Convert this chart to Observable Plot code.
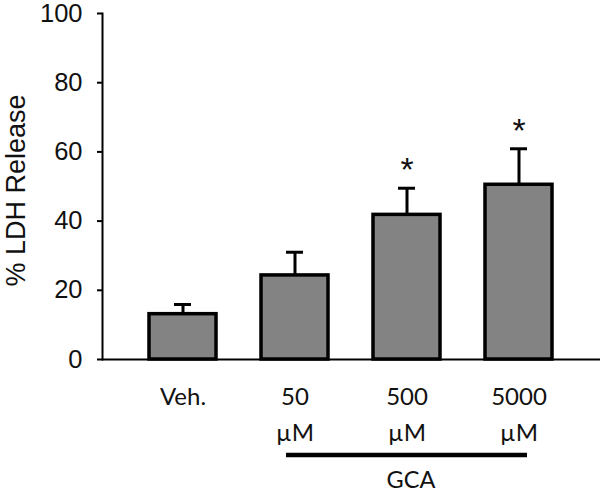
<!DOCTYPE html>
<html>
<head>
<meta charset="utf-8">
<script src="https://cdn.jsdelivr.net/npm/d3@7"></script>
<script src="https://cdn.jsdelivr.net/npm/@observablehq/plot@0.6"></script>
<style>
  html, body { margin: 0; padding: 0; background: #fff; }
  #chart svg { display: block; }
</style>
</head>
<body>
<div id="chart"></div>
<script>
// Data
const categories = ["Veh.", "50 µM", "500 µM", "5000 µM"];
const tickLabels = ["Veh.", "50\nµM", "500\nµM", "5000\nµM"];
const means = [13.1, 24.3, 41.8, 50.5];
const errors = [2.8, 6.7, 7.7, 10.4];
const significant = [false, false, true, true];
const yTicks = [0, 20, 40, 60, 80, 100];
const yLabel = "% LDH Release";
const groupLabel = "GCA";
const groupStart = "50 µM";
const groupEnd = "5000 µM";

const rows = categories.map((c, i) => ({
  cat: c, mean: means[i], upper: means[i] + errors[i], sig: significant[i]
}));
const labelOf = new Map(categories.map((c, i) => [c, tickLabels[i]]));

const bracketY = -27.6;

const chart = Plot.plot({
  width: 600,
  height: 493,
  marginLeft: 102,
  marginRight: 0,
  marginTop: 13,
  marginBottom: 134,
  style: { background: "#fff" },
  x: { domain: categories, paddingInner: 0.4, paddingOuter: 0.42, label: null },
  y: { domain: [0, 100], ticks: yTicks, label: null },
  marks: [
    Plot.frame({ anchor: "left", stroke: "#000", strokeWidth: 2 }),
    Plot.axisY({
      ticks: yTicks, tickSize: 5, tickPadding: 15, strokeWidth: 2,
      fontSize: 25.5, fontFamily: "Liberation Sans, Arial, sans-serif", fill: "#111", label: null
    }),
    Plot.axisX({
      tickSize: 0, tickPadding: 20, fontSize: 24, fontFamily: "Lato, sans-serif",
      lineHeight: 1.5, fill: "#111", tickFormat: d => labelOf.get(d), label: null
    }),
    // error bars
    Plot.ruleX(rows, { x: "cat", y1: "mean", y2: "upper", stroke: "#000", strokeWidth: 3 }),
    Plot.tickY(rows, { x: "cat", y: "upper", stroke: "#000", strokeWidth: 3, insetLeft: 25, insetRight: 25 }),
    Plot.barY(rows, { x: "cat", y: "mean", fill: "#838383", stroke: "#000", strokeWidth: 3.5 }),
    Plot.ruleY([0], { stroke: "#000", strokeWidth: 2 }),
    // significance asterisks
    Plot.text(rows.filter(d => d.sig), {
      x: "cat", y: "upper", text: () => "*", fontSize: 34,
      fontFamily: "Liberation Sans, Arial, sans-serif", fill: "#111", dy: -18
    }),
    // y label
    Plot.text([yLabel], {
      frameAnchor: "left", textAnchor: "middle", rotate: -90, dx: -86, dy: 4, fontSize: 27,
      fontFamily: "Liberation Sans, Arial, sans-serif", fill: "#111"
    }),
    // group bracket
    Plot.ruleY([bracketY], {
      x1: () => groupStart, x2: () => groupEnd, stroke: "#000", strokeWidth: 4.5,
      insetLeft: 25, insetRight: 25, clip: false
    }),
    Plot.text([groupLabel], {
      x: () => "500 µM", y: () => bracketY, dx: 4, dy: 25, fontSize: 23.5,
      fontFamily: "Lato, sans-serif", fill: "#111", clip: false
    })
  ]
});
document.getElementById("chart").appendChild(chart);
</script>
</body>
</html>
